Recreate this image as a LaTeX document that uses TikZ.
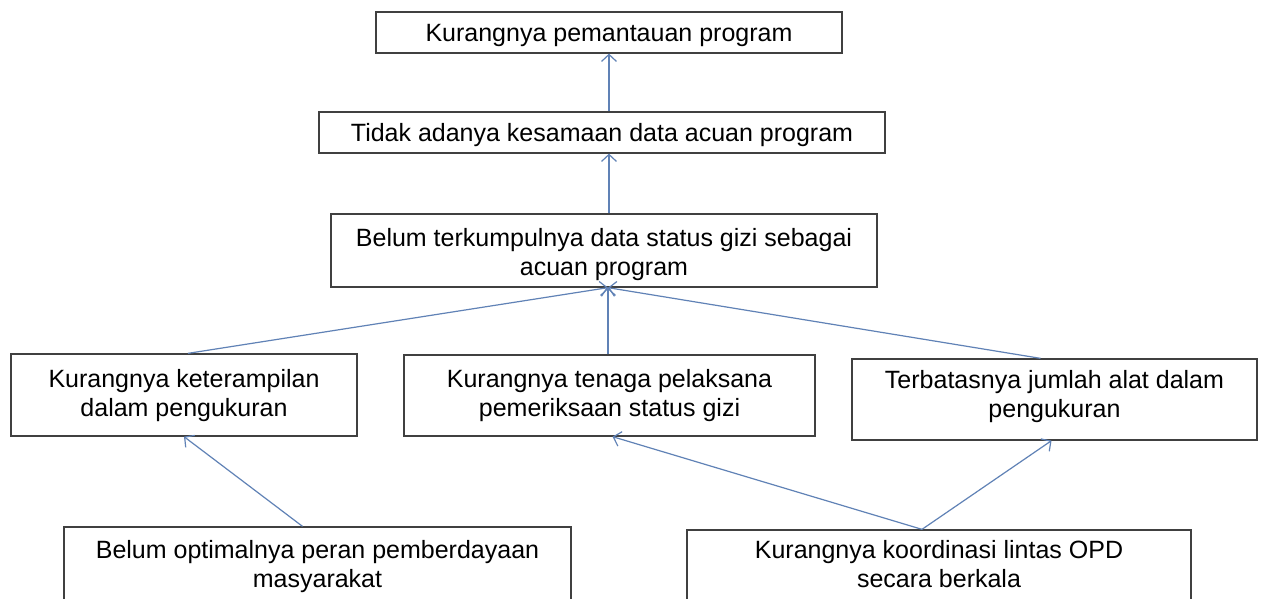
\documentclass[tikz,border=0pt]{standalone}
\usepackage{fontspec}
\setmainfont{Liberation Sans}
\usetikzlibrary{arrows.meta,calc}
\definecolor{boxgray}{RGB}{64,64,64}
\definecolor{linkblue}{RGB}{96,130,182}
\newcommand\topst{\rule{0pt}{20pt}}
\newcommand\botst{\rule[-6pt]{0pt}{6pt}}
\begin{document}
\begin{tikzpicture}[x=1pt,y=-1pt,
  box/.style={draw=boxgray, line width=1.3pt, fill=white, inner sep=0pt},
  txt/.style={align=center, inner sep=0pt, font=\fontsize{25}{29}\selectfont},
  arr/.style={draw=linkblue, line width=1.2pt, -{Straight Barb[length=7pt,width=15pt]}}]
\useasboundingbox (0,0) rectangle (1262,599);
\clip (0,0) rectangle (1262,599);
\fill[white] (0,0) rectangle (1262,599);
% boxes
\node[box, minimum width=466pt, minimum height=41pt] (B1) at (609,32.5) {};
\node[box, minimum width=566pt, minimum height=41pt] (B2) at (602,132.5) {};
\node[box, minimum width=546pt, minimum height=73pt] (B3) at (604,250.5) {};
\node[box, minimum width=346pt, minimum height=82pt] (B4) at (184,395) {};
\node[box, minimum width=411pt, minimum height=81pt] (B5) at (609.5,395.5) {};
\node[box, minimum width=405pt, minimum height=81pt] (B6) at (1054.5,399.5) {};
\node[box, minimum width=507pt, minimum height=80pt] (B7) at (317.5,567) {};
\node[box, minimum width=504pt, minimum height=80pt] (B8) at (939,570) {};
% texts
\node[txt] (T1) at (609,35) {\topst Kurangnya pemantauan program\botst};
\node[txt] (T2) at (602,135) {\topst Tidak adanya kesamaan data acuan program\botst};
\node[txt] (T3) at (604,253.5) {\topst Belum terkumpulnya data status gizi sebagai\\acuan program\botst};
\node[txt] (T4) at (184,394.5) {\topst Kurangnya keterampilan\\dalam pengukuran\botst};
\node[txt] (T5) at (609.5,394.5) {\topst Kurangnya tenaga pelaksana\\pemeriksaan status gizi\botst};
\node[txt] (T6) at (1054.5,395.5) {\topst Terbatasnya jumlah alat dalam\\pengukuran\botst};
\node[txt] (T7) at (317.5,566) {\topst Belum optimalnya peran pemberdayaan\\masyarakat\botst};
\node[txt] (T8) at (939,566) {\topst Kurangnya koordinasi lintas OPD\\secara berkala\botst};
% connectors
\coordinate (m3) at ($(B3.south)+(4,0)$);
\draw[arr] (B2.north -| B1.south) -- (B1.south);
\draw[arr] (B3.north -| B1.south) -- (B2.south -| B1.south);
\draw[arr] ($(B4.north)+(4,0)$) -- (m3);
\draw[arr] (B5.north -| m3) -- (m3);
\draw[arr] ($(B6.north)+(-14,0)$) -- (m3);
\draw[arr] ($(B7.north)+(-15,0)$) -- (B4.south);
\draw[arr] ($(B8.north)+(-17,0)$) -- ($(B5.south)+(3,0)$);
\draw[arr] ($(B8.north)+(-17,0)$) -- ($(B6.south)+(-3,0)$);
\end{tikzpicture}
\end{document}
